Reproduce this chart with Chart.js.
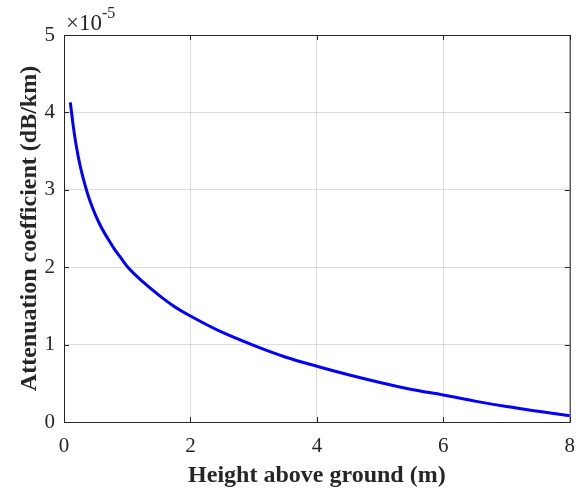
<!DOCTYPE html>
<html>
<head>
<meta charset="utf-8">
<script src="https://cdn.jsdelivr.net/npm/chart.js@4.4.0/dist/chart.umd.min.js"></script>
<style>
    html, body { margin: 0; padding: 0; background: #fff; }
    #wrap { width: 587px; height: 495px; }
</style>
</head>
<body>
<div id="wrap"><canvas id="attChart" width="587" height="495"></canvas></div>
<script>
// 高度 (m) 和 衰减系数 (x 1e-5 dB/km)
const heights = [0.1, 0.15, 0.2, 0.25, 0.3, 0.4, 0.5, 0.6, 0.7, 0.8, 0.9, 1.0, 1.25, 1.5, 1.75, 2, 2.5, 3, 3.5, 4, 4.5, 5, 5.5, 6, 6.5, 7, 7.5, 8];
const attenuation = [4.13, 3.80, 3.54, 3.33, 3.16, 2.88, 2.67, 2.50, 2.36, 2.23, 2.12, 2.01, 1.81, 1.64, 1.49, 1.37, 1.16, 0.99, 0.84, 0.72, 0.61, 0.51, 0.42, 0.35, 0.27, 0.20, 0.14, 0.08];
const xTicks = [0, 2, 4, 6, 8];
const yTicks = [0, 1, 2, 3, 4, 5];

const axisColor = '#262626';
const serif = '"Liberation Serif", "Times New Roman", serif';

// 画外框、向内的刻度和 x10^-5 标注
const framePlugin = {
    id: 'frame',
    afterDraw(chart) {
        const { ctx, chartArea: a, scales } = chart;
        ctx.save();
        ctx.strokeStyle = axisColor;
        ctx.lineWidth = 1;
        ctx.strokeRect(a.left + 0.5, a.top + 0.5, a.right - a.left, a.bottom - a.top);
        const len = 5;
        ctx.beginPath();
        xTicks.forEach(function(v) {
            const px = Math.round(scales.x.getPixelForValue(v)) + 0.5;
            ctx.moveTo(px, a.bottom); ctx.lineTo(px, a.bottom - len);
            ctx.moveTo(px, a.top); ctx.lineTo(px, a.top + len);
        });
        yTicks.forEach(function(v) {
            const py = Math.round(scales.y.getPixelForValue(v)) + 0.5;
            ctx.moveTo(a.left, py); ctx.lineTo(a.left + len, py);
            ctx.moveTo(a.right, py); ctx.lineTo(a.right - len, py);
        });
        ctx.stroke();

        ctx.fillStyle = axisColor;
        ctx.textBaseline = 'alphabetic';
        ctx.textAlign = 'left';
        ctx.font = '23px ' + serif;
        const base = '\u00d710';
        ctx.fillText(base, a.left + 2, 30);
        const w = ctx.measureText(base).width;
        ctx.font = '16px ' + serif;
        ctx.fillText('-5', a.left + 2 + w, 18);
        ctx.restore();
    }
};

const ctx = document.getElementById('attChart').getContext('2d');
new Chart(ctx, {
    type: 'line',
    data: {
        datasets: [{
            data: heights.map(function(h, i) { return { x: h, y: attenuation[i] }; }),
            borderColor: '#0000ff',
            borderWidth: 3,
            pointRadius: 0,
            cubicInterpolationMode: 'monotone',
            fill: false
        }]
    },
    options: {
        responsive: false,
        animation: false,
        layout: { padding: { left: 0, right: 16, top: 35, bottom: 0 } },
        plugins: {
            legend: { display: false },
            tooltip: { enabled: false }
        },
        scales: {
            x: {
                type: 'linear',
                min: 0,
                max: 8,
                afterBuildTicks: function(s) { s.ticks = xTicks.map(function(v) { return { value: v }; }); },
                afterFit: function(s) { s.height = 73; },
                grid: { color: 'rgba(0,0,0,0.13)', drawTicks: false },
                border: { display: false },
                ticks: {
                    padding: 12,
                    color: axisColor,
                    font: { family: serif, size: 21 }
                },
                title: {
                    display: true,
                    text: 'Height above ground (m)',
                    color: axisColor,
                    font: { family: serif, size: 24, weight: 'bold' },
                    padding: { top: 0, bottom: 5 }
                }
            },
            y: {
                type: 'linear',
                min: 0,
                max: 5,
                afterBuildTicks: function(s) { s.ticks = yTicks.map(function(v) { return { value: v }; }); },
                afterFit: function(s) { s.width = 64; },
                grid: { color: 'rgba(0,0,0,0.13)', drawTicks: false },
                border: { display: false },
                ticks: {
                    padding: 9,
                    color: axisColor,
                    font: { family: serif, size: 21 }
                },
                title: {
                    display: true,
                    text: 'Attenuation coefficient (dB/km)',
                    color: axisColor,
                    font: { family: serif, size: 24, weight: 'bold' },
                    padding: { top: 15, bottom: 0 }
                }
            }
        }
    },
    plugins: [framePlugin]
});
</script>
</body>
</html>
